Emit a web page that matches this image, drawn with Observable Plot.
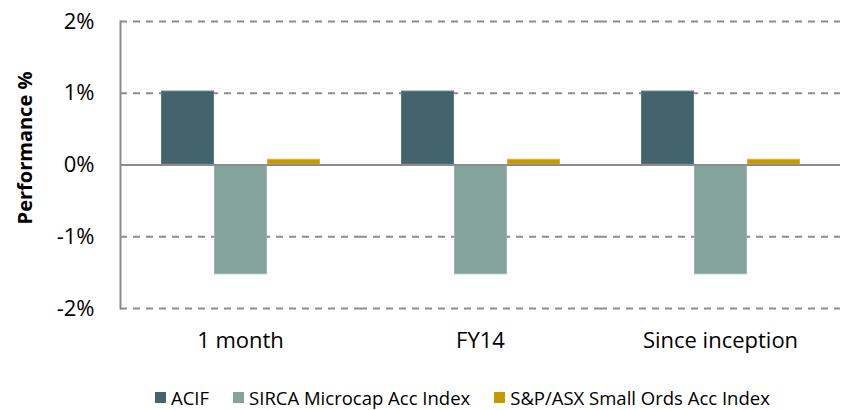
<!DOCTYPE html>
<html><head><meta charset="utf-8">
<script src="https://cdn.jsdelivr.net/npm/d3@7"></script>
<script src="https://cdn.jsdelivr.net/npm/@observablehq/plot@0.6"></script>
<style>
body{margin:0;background:#fff;font-family:"Open Sans",sans-serif;}
#wrap{position:relative;width:844px;height:410px;overflow:hidden;}
#ylab{position:absolute;left:24px;top:148px;transform:translate(-50%,-50%) rotate(-90deg);font-weight:bold;font-size:20px;white-space:nowrap;color:#000;}
#legend{position:absolute;top:387px;left:155px;display:flex;align-items:center;font-size:18.5px;line-height:21px;color:#000;white-space:nowrap;}
.sw{display:inline-block;width:11px;height:11px;margin-right:5px;}
.item{display:flex;align-items:center;margin-right:24px;}
</style></head>
<body><div id="wrap"><div id="chart"></div><div id="ylab">Performance %</div><div id="legend"></div></div>
<script>
const periods = ["1 month", "FY14", "Since inception"];
const series = ["ACIF", "SIRCA Microcap Acc Index", "S&P/ASX Small Ords Acc Index"];
const acif = [1.03, 1.03, 1.03];
const sirca = [-1.53, -1.53, -1.53];
const smallOrds = [0.08, 0.08, 0.08];
const colors = ["#44646c", "#84a39b", "#c49a00"];
const outlines = ["#5a7880", "#9ab5ae", "#d6b24a"];
const yTicks = [-2, -1, 0, 1, 2];

const values = [acif, sirca, smallOrds];
const data = [];
periods.forEach((p, i) => series.forEach((s, j) => data.push({period: p, series: s, value: values[j][i]})));

const chart = Plot.plot({
  width: 844, height: 360,
  marginLeft: 119, marginRight: 4, marginTop: 21, marginBottom: 52,
  style: {fontFamily: "'Open Sans', sans-serif", fontSize: "22px", color: "#000", background: "#fff"},
  fx: {domain: periods, padding: 0, label: null, tickSize: 0, tickPadding: 24, axis: "bottom"},
  x: {domain: series, paddingInner: 0, paddingOuter: 0.75, axis: null},
  y: {domain: [-2, 2], ticks: yTicks, tickFormat: d => d + "%", label: null, tickSize: 0, tickPadding: 26},
  color: {domain: series, range: colors},
  marks: [
    Plot.ruleY(yTicks.filter(d => d !== 0), {stroke: "#8c8c8c", strokeWidth: 2, strokeDasharray: "7,6"}),
    Plot.barY(data, {fx: "period", x: "series", y: "value", fill: "series",
      stroke: d => outlines[series.indexOf(d.series)], strokeWidth: 1, inset: 0.5}),
    Plot.ruleY([0], {stroke: "#8c8c8c", strokeWidth: 2}),
    Plot.frame({anchor: "left", fx: () => periods[0], stroke: "#8c8c8c", strokeWidth: 2})
  ]
});
document.getElementById("chart").appendChild(chart);

const lg = document.getElementById("legend");
series.forEach((s, i) => {
  const it = document.createElement("div"); it.className = "item";
  const sw = document.createElement("span"); sw.className = "sw"; sw.style.background = colors[i];
  const t = document.createElement("span"); t.textContent = s;
  it.appendChild(sw); it.appendChild(t); lg.appendChild(it);
});
</script></body></html>
